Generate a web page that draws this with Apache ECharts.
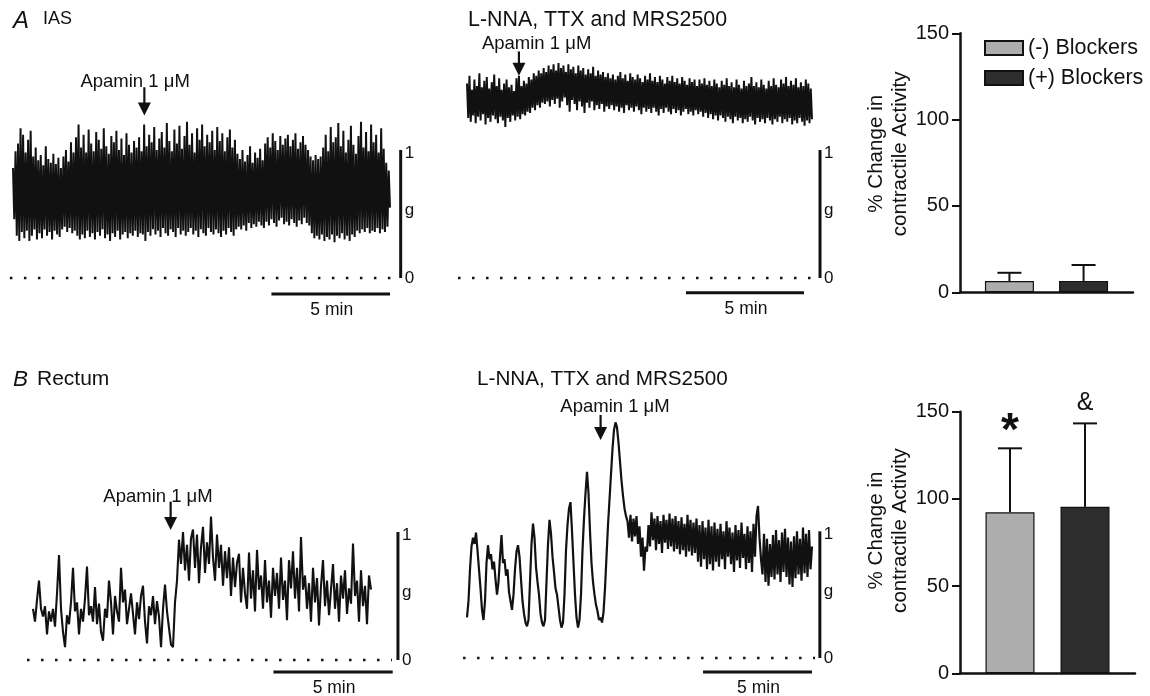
<!DOCTYPE html>
<html>
<head>
<meta charset="utf-8">
<script src="https://cdn.jsdelivr.net/npm/echarts@6/dist/echarts.min.js"></script>
<style>
  html, body { margin: 0; padding: 0; background: #fff; }
  #chart { width: 1150px; height: 696px; }
</style>
</head>
<body>
<div id="chart"></div>
<script>
// ---- Recorded force (g), sampled at a fixed interval over each recording ----
// IAS, no blockers
const iasControl = [
  0.86,0.46, 0.99,0.33, 1.05,0.29, 1.17,0.36, 1.12,0.31, 0.98,0.37, 1.08,0.29, 1.15,0.33, 0.95,0.38, 1.02,0.30,
  0.92,0.35, 0.96,0.31, 0.88,0.38, 1.03,0.33, 0.93,0.36, 0.90,0.30, 0.97,0.37, 0.89,0.34, 0.94,0.32, 0.86,0.38,
  0.95,0.40, 1.00,0.36, 0.91,0.39, 1.06,0.35, 0.98,0.37, 1.10,0.33, 1.20,0.30, 1.02,0.34, 1.12,0.31, 0.98,0.37,
  1.16,0.32, 1.05,0.35, 0.99,0.30, 1.14,0.36, 1.08,0.33, 1.01,0.38, 1.17,0.31, 1.03,0.34, 0.97,0.29, 1.11,0.35,
  1.06,0.32, 1.15,0.37, 1.00,0.30, 1.09,0.34, 0.96,0.36, 1.13,0.31, 1.04,0.35, 0.98,0.33, 1.07,0.37, 1.02,0.32,
  1.10,0.35, 0.99,0.34, 1.20,0.29, 1.03,0.36, 1.12,0.33, 1.06,0.38, 1.18,0.34, 1.00,0.37, 1.09,0.32, 1.14,0.39,
  1.02,0.35, 1.21,0.33, 1.07,0.38, 0.99,0.36, 1.16,0.32, 1.05,0.39, 1.19,0.34, 1.01,0.37, 1.11,0.33, 1.22,0.36,
  1.04,0.39, 1.13,0.34, 0.98,0.37, 1.17,0.32, 1.08,0.38, 1.20,0.35, 1.03,0.33, 1.12,0.39, 1.06,0.36, 1.15,0.34,
  1.00,0.38, 1.18,0.35, 1.07,0.32, 1.13,0.37, 0.99,0.34, 1.10,0.39, 1.16,0.36, 1.02,0.33, 1.08,0.38, 0.97,0.40,
  0.93,0.38, 1.00,0.41, 0.91,0.37, 0.96,0.43, 1.03,0.39, 0.90,0.42, 0.98,0.40, 0.94,0.44, 1.01,0.41, 0.92,0.39,
  1.05,0.44, 1.10,0.41, 1.02,0.46, 1.13,0.43, 1.07,0.40, 1.00,0.45, 1.11,0.47, 1.04,0.42, 1.09,0.44, 1.12,0.41,
  1.03,0.46, 1.08,0.43, 1.13,0.40, 1.01,0.45, 1.06,0.42, 1.11,0.47, 1.04,0.43, 1.00,0.41, 0.95,0.35, 0.92,0.31,
  0.96,0.33, 0.93,0.30, 0.95,0.34, 1.02,0.29, 1.12,0.32, 0.99,0.30, 1.18,0.34, 1.06,0.28, 1.10,0.33, 1.21,0.31,
  1.03,0.35, 1.15,0.30, 0.98,0.33, 1.08,0.29, 1.19,0.34, 1.04,0.32, 0.97,0.37, 1.11,0.35, 1.22,0.38, 1.02,0.36,
  1.14,0.39, 0.99,0.35, 1.20,0.37, 1.06,0.36, 1.12,0.39, 0.98,0.35, 1.17,0.38, 1.01,0.36, 0.90,0.40, 0.84,0.55
];

// IAS, in L-NNA, TTX and MRS2500
const iasBlockers = [
  1.52,1.25, 1.58,1.22, 1.47,1.27, 1.55,1.21, 1.50,1.26, 1.60,1.23, 1.49,1.28, 1.54,1.20, 1.57,1.25, 1.48,1.22,
  1.53,1.27, 1.59,1.24, 1.50,1.21, 1.56,1.26, 1.47,1.23, 1.52,1.18, 1.55,1.25, 1.49,1.22, 1.51,1.27, 1.46,1.23,
  1.56,1.26, 1.58,1.24, 1.50,1.28, 1.54,1.27, 1.52,1.30, 1.57,1.29, 1.55,1.33, 1.60,1.31, 1.58,1.35, 1.62,1.33,
  1.60,1.37, 1.64,1.36, 1.61,1.38, 1.66,1.34, 1.63,1.39, 1.67,1.36, 1.62,1.40, 1.68,1.33, 1.64,1.38, 1.66,1.41,
  1.61,1.35, 1.67,1.30, 1.63,1.39, 1.65,1.36, 1.60,1.31, 1.66,1.38, 1.62,1.34, 1.64,1.29, 1.59,1.37, 1.63,1.33,
  1.60,1.38, 1.65,1.31, 1.58,1.35, 1.62,1.32, 1.59,1.36, 1.61,1.30, 1.57,1.34, 1.60,1.32, 1.56,1.35, 1.59,1.31,
  1.55,1.34, 1.58,1.30, 1.61,1.33, 1.56,1.29, 1.59,1.35, 1.54,1.31, 1.60,1.33, 1.57,1.30, 1.55,1.34, 1.59,1.31,
  1.56,1.28, 1.53,1.33, 1.58,1.30, 1.55,1.32, 1.60,1.29, 1.54,1.33, 1.57,1.30, 1.53,1.27, 1.58,1.32, 1.55,1.29,
  1.52,1.33, 1.57,1.30, 1.54,1.28, 1.58,1.32, 1.53,1.29, 1.56,1.31, 1.52,1.27, 1.57,1.30, 1.54,1.32, 1.51,1.28,
  1.56,1.30, 1.53,1.27, 1.55,1.31, 1.50,1.28, 1.55,1.30, 1.52,1.26, 1.56,1.29, 1.51,1.25, 1.54,1.28, 1.50,1.24,
  1.55,1.27, 1.52,1.23, 1.49,1.27, 1.54,1.25, 1.51,1.22, 1.56,1.26, 1.50,1.24, 1.53,1.21, 1.49,1.26, 1.55,1.23,
  1.51,1.25, 1.48,1.21, 1.54,1.24, 1.50,1.22, 1.52,1.26, 1.57,1.23, 1.50,1.20, 1.53,1.25, 1.49,1.22, 1.55,1.24,
  1.51,1.21, 1.48,1.25, 1.54,1.23, 1.50,1.20, 1.56,1.24, 1.51,1.22, 1.49,1.26, 1.55,1.21, 1.52,1.24, 1.57,1.22,
  1.50,1.25, 1.54,1.20, 1.51,1.23, 1.56,1.21, 1.49,1.25, 1.53,1.22, 1.50,1.19, 1.55,1.23, 1.52,1.21, 1.48,1.24
];

// Rectum, no blockers
const rectumControl = [
  0.40,0.30,0.47,0.62,0.40,0.34,0.42,0.20,0.38,0.30,
  0.40,0.26,0.52,0.82,0.40,0.22,0.10,0.35,0.28,0.45,
  0.72,0.38,0.45,0.20,0.40,0.30,0.48,0.73,0.35,0.42,
  0.30,0.57,0.28,0.44,0.22,0.15,0.40,0.33,0.62,0.45,
  0.20,0.50,0.38,0.30,0.72,0.45,0.55,0.28,0.40,0.52,
  0.36,0.20,0.45,0.32,0.50,0.58,0.30,0.13,0.42,0.35,
  0.50,0.28,0.46,0.34,0.10,0.40,0.59,0.38,0.25,0.12,
  0.10,0.45,0.62,0.94,0.75,1.00,0.70,0.90,0.62,0.95,
  1.02,0.72,0.98,0.60,0.88,1.04,0.68,0.92,0.75,1.12,
  0.80,0.62,0.98,0.72,0.90,0.58,0.85,0.64,0.88,0.50,
  0.80,0.57,0.76,0.83,0.45,0.72,0.52,0.40,0.84,0.48,
  0.70,0.38,0.86,0.55,0.66,0.40,0.78,0.45,0.62,0.33,
  0.72,0.50,0.68,0.40,0.80,0.47,0.62,0.31,0.78,0.56,
  0.85,0.48,0.72,0.38,0.96,0.55,0.66,0.40,0.60,0.30,
  0.72,0.45,0.64,0.27,0.58,0.78,0.42,0.62,0.35,0.55,
  0.75,0.40,0.60,0.30,0.66,0.48,0.70,0.36,0.56,0.44,
  0.91,0.50,0.62,0.30,0.70,0.42,0.58,0.28,0.66,0.55
];

// Rectum, in L-NNA, TTX and MRS2500
const rectumBlockers = [
  0.32,0.45,0.70,0.88,0.95,0.90,0.99,0.85,0.70,0.55,
  0.38,0.30,0.45,0.75,0.89,0.78,0.82,0.70,0.76,0.62,
  0.50,0.60,0.80,0.97,0.75,0.78,0.65,0.70,0.52,0.45,
  0.38,0.50,0.70,0.84,0.89,0.80,0.62,0.45,0.35,0.28,
  0.25,0.30,0.60,0.90,1.06,0.95,0.72,0.60,0.50,0.35,
  0.28,0.25,0.30,0.60,0.90,1.09,0.98,0.80,0.68,0.55,
  0.50,0.40,0.30,0.24,0.28,0.50,0.85,1.05,1.18,1.23,
  1.00,0.75,0.50,0.32,0.24,0.30,0.50,0.85,1.10,1.30,
  1.47,1.30,1.00,0.75,0.60,0.50,0.42,0.37,0.30,0.32,
  0.28,0.36,0.55,0.80,1.05,1.25,1.45,1.65,1.80,1.86,
  1.82,1.70,1.55,1.40,1.28,1.18,1.12,
  1.08,0.95,1.13,0.92,1.10,0.96,1.12,0.90,1.04,0.80,
  0.95,0.69,0.88,0.84,1.05,0.88,1.15,0.93,1.10,0.85,
  1.12,0.90,1.08,0.83,1.13,0.91,1.09,0.86,1.14,0.88,
  1.10,0.84,1.12,0.86,1.08,0.82,1.11,0.85,1.06,0.80,
  1.13,0.84,1.09,0.81,1.07,0.83,1.10,0.76,1.05,0.72,
  1.08,0.78,1.03,0.70,1.09,0.74,1.04,0.69,1.07,0.76,
  1.02,0.72,1.06,0.78,1.00,0.70,1.08,0.80,1.03,0.74,
  0.99,0.68,1.05,0.77,1.01,0.71,1.07,0.79,0.98,0.70,
  1.04,0.75,1.00,0.68,1.06,0.80,1.12,1.20,0.95,0.78,
  0.66,0.98,0.60,0.94,0.57,0.90,0.64,0.97,0.62,1.01,
  0.66,0.93,0.60,0.99,0.68,1.02,0.64,0.95,0.58,0.92,
  0.56,0.96,0.63,1.00,0.66,0.94,0.61,1.03,0.67,0.98,
  0.64,1.01,0.70,0.88
];

// ---- Summary: % change in contractile activity (mean, SEM) ----
const barGroups = ['(-) Blockers', '(+) Blockers'];
const iasMean = [6.5, 6.6];
const iasSem = [4.8, 9.2];
const rectumMean = [92.3, 95.5];
const rectumSem = [36.7, 47.8];
const rectumMarks = ['*', '&'];
const pctTicks = { min: 0, max: 150, step: 50 };

const APAMIN = 'Apamin 1 \u03bcM';
const BLOCKERS = 'L-NNA, TTX and MRS2500';

// ---- Styling / layout ----
const FONT = '"Liberation Sans", Arial, Helvetica, sans-serif';
const INK = '#111111';
const BAR_FILL = ['#adadad', '#2d2d2d'];
const G_MIN = -0.3, G_MAX = 2.1;

const tracePanels = [
  { values: iasControl, minutes: 15.9, left: 13, width: 377, zeroY: 278, pxPerG: 128, lineWidth: 2.0,
    dotted: [-0.13, 16.03], gBarAt: 16.35, timeBar: [10.9, 15.9, -0.125],
    arrow: { at: 5.54, from: 1.49, to: 1.27, labelAt: 5.15, labelG: 1.53 } },
  { values: iasBlockers, minutes: 14.62, left: 467, width: 345, zeroY: 278, pxPerG: 128, lineWidth: 2.0,
    dotted: [-0.38, 14.66], gBarAt: 14.96, timeBar: [9.28, 14.28, -0.115],
    arrow: { at: 2.20, from: 1.77, to: 1.58, labelAt: 2.95, labelG: 1.826 } },
  { values: rectumControl, minutes: 14.17, left: 33, width: 338, zeroY: 660, pxPerG: 128, lineWidth: 2.1,
    dotted: [-0.25, 15.05], gBarAt: 15.30, timeBar: [10.08, 15.08, -0.094],
    arrow: { at: 5.77, from: 1.237, to: 1.016, labelAt: 5.24, labelG: 1.276 } },
  { values: rectumBlockers, minutes: 15.83, left: 467, width: 345, zeroY: 658, pxPerG: 126.7, lineWidth: 2.2,
    dotted: [-0.18, 15.97], gBarAt: 16.19, timeBar: [10.83, 15.83, -0.11],
    arrow: { at: 6.13, from: 1.918, to: 1.72, labelAt: 6.79, labelG: 1.983 } }
];

const barPanels = [
  { left: 960, top: 33.3, width: 173, height: 259, mean: iasMean, sem: iasSem, marks: null, namePad: 18 },
  { left: 960, top: 411.7, width: 175, height: 261.6, mean: rectumMean, sem: rectumSem, marks: rectumMarks, namePad: 24 }
];
const markStyle = {
  '*': { fontSize: 46, fontWeight: 'bold', lift: 16 },
  '&': { fontSize: 25, fontWeight: 'normal', lift: 20 }
};
const slotOf = i => 2 + 3 * i;

function txt(x, y, str, size, align, extra) {
  return {
    type: 'text', x, y,
    style: Object.assign({
      legacy: false, text: str, fill: INK, fontSize: size, fontFamily: FONT,
      align: align || 'left', verticalAlign: 'middle'
    }, extra || {})
  };
}
function seg(a, b, w, dash) {
  return {
    type: 'line',
    shape: { x1: a[0], y1: a[1], x2: b[0], y2: b[1] },
    style: { stroke: INK, lineWidth: w, lineDash: dash || null, fill: null }
  };
}

// Scale bars, baseline, drug arrow for one trace panel
function traceMarks(p, api) {
  const at = (t, g) => api.coord([t, g]);
  const kids = [];
  kids.push(seg(at(p.dotted[0], 0), at(p.dotted[1], 0), 2.5, [2.5, 11.5]));
  const g0 = at(p.gBarAt, 0), g1 = at(p.gBarAt, 1);
  kids.push(seg(g0, g1, 3));
  kids.push(txt(g1[0] + 4, g1[1] + 3, '1', 17));
  const gm = at(p.gBarAt, 0.53);
  kids.push(txt(gm[0] + 4, gm[1], 'g', 17));
  kids.push(txt(g0[0] + 4, g0[1], '0', 17));
  const t0 = at(p.timeBar[0], p.timeBar[2]), t1 = at(p.timeBar[1], p.timeBar[2]);
  kids.push(seg(t0, t1, 3));
  kids.push(txt((t0[0] + t1[0]) / 2 + 1, t0[1] + 16, '5 min', 17.5, 'center'));
  const a0 = at(p.arrow.at, p.arrow.from), tip = at(p.arrow.at, p.arrow.to);
  kids.push(seg(a0, [tip[0], tip[1] - 11], 2.2));
  kids.push({
    type: 'polygon',
    shape: { points: [[tip[0] - 6.5, tip[1] - 13], [tip[0] + 6.5, tip[1] - 13], [tip[0], tip[1]]] },
    style: { fill: INK }
  });
  const lb = at(p.arrow.labelAt, p.arrow.labelG);
  kids.push(txt(lb[0], lb[1], APAMIN, 18.5, 'center'));
  return { type: 'group', children: kids };
}

const grids = [], xAxes = [], yAxes = [], series = [];

tracePanels.forEach((p, k) => {
  grids.push({
    left: p.left, width: p.width,
    top: p.zeroY - G_MAX * p.pxPerG, height: (G_MAX - G_MIN) * p.pxPerG,
    outerBoundsMode: 'none', containLabel: false
  });
  xAxes.push({ type: 'value', gridIndex: k, min: 0, max: p.minutes, show: false });
  yAxes.push({ type: 'value', gridIndex: k, min: G_MIN, max: G_MAX, show: false });
  const dt = p.minutes / (p.values.length - 1);
  series.push({
    type: 'line', xAxisIndex: k, yAxisIndex: k, silent: true,
    data: p.values.map((v, i) => [i * dt, v]),
    showSymbol: false, symbol: 'none', clip: false,
    lineStyle: { color: INK, width: p.lineWidth },
    z: 2
  });
  series.push({
    type: 'custom', xAxisIndex: k, yAxisIndex: k, silent: true,
    data: [[0, 0]], clip: false,
    renderItem: (params, api) => traceMarks(p, api),
    z: 3
  });
});

barPanels.forEach((b, j) => {
  const k = tracePanels.length + j;
  grids.push({ left: b.left, top: b.top, width: b.width, height: b.height, outerBoundsMode: 'none', containLabel: false });
  xAxes.push({
    type: 'value', gridIndex: k, min: 0, max: 7,
    axisLine: { show: true, onZero: false, lineStyle: { color: INK, width: 2.5 } },
    axisTick: { show: false }, axisLabel: { show: false }, splitLine: { show: false }
  });
  yAxes.push({
    type: 'value', gridIndex: k, min: pctTicks.min, max: pctTicks.max, interval: pctTicks.step,
    axisLine: { show: true, lineStyle: { color: INK, width: 2.5 } },
    axisTick: { show: true, length: 8, lineStyle: { color: INK, width: 2 } },
    axisLabel: { fontSize: 20, color: INK, margin: 11, fontFamily: FONT },
    splitLine: { show: false },
    name: '% Change in\ncontractile Activity',
    nameLocation: 'middle', nameGap: 48, nameMoveOverlap: false,
    nameTextStyle: { fontSize: 20.6, lineHeight: 24, color: INK, fontFamily: FONT, padding: [0, 0, 0, b.namePad] }
  });
  barGroups.forEach((name, i) => {
    series.push({
      type: 'bar', name, xAxisIndex: k, yAxisIndex: k, silent: true,
      barWidth: 49, barGap: '-100%',
      data: [[slotOf(i), b.mean[i]]],
      itemStyle: { color: BAR_FILL[i], borderColor: INK, borderWidth: 1.2 },
      z: 2
    });
  });
  series.push({
    type: 'custom', xAxisIndex: k, yAxisIndex: k, silent: true, clip: false,
    data: b.mean.map((m, i) => [slotOf(i), m, b.sem[i], i]),
    renderItem: (params, api) => {
      const x = api.value(0), m = api.value(1), e = api.value(2), i = api.value(3);
      const base = api.coord([x, m]), top = api.coord([x, m + e]);
      const kids = [
        seg(base, top, 2),
        seg([top[0] - 12, top[1]], [top[0] + 12, top[1]], 2)
      ];
      if (b.marks) {
        const s = b.marks[i], st = markStyle[s];
        kids.push(txt(top[0], top[1] - st.lift, s, st.fontSize, 'center', { fontWeight: st.fontWeight }));
      }
      return { type: 'group', children: kids };
    },
    z: 4
  });
});

const option = {
  animation: false,
  backgroundColor: '#ffffff',
  textStyle: { fontFamily: FONT },
  grid: grids,
  xAxis: xAxes,
  yAxis: yAxes,
  legend: {
    show: true, orient: 'vertical', left: 984, top: 37, padding: 0,
    itemWidth: 38, itemHeight: 14, itemGap: 8,
    icon: 'rect', selectedMode: false, data: barGroups,
    textStyle: { fontSize: 21.5, color: INK, fontFamily: FONT, lineHeight: 21 }
  },
  graphic: {
    elements: [
      txt(13, 21.5, 'A', 24, 'left', { fontStyle: 'italic' }),
      txt(43, 19.5, 'IAS', 18),
      txt(468, 20, BLOCKERS, 21.4),
      txt(13, 379.5, 'B', 22.5, 'left', { fontStyle: 'italic' }),
      txt(37, 379.5, 'Rectum', 21),
      txt(477, 379.5, BLOCKERS, 20.7)
    ]
  },
  series
};

const chart = echarts.init(document.getElementById('chart'), null, { renderer: 'canvas' });
chart.setOption(option);
</script>
</body>
</html>
